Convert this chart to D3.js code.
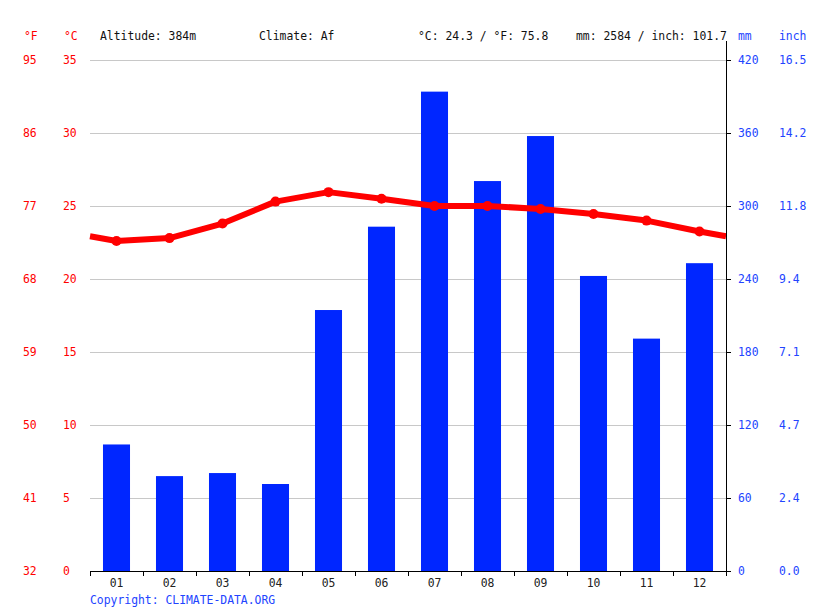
<!DOCTYPE html>
<html><head><meta charset="utf-8">
<script src="https://cdn.jsdelivr.net/npm/d3@7"></script>
<style>body{margin:0;background:#fff}svg{display:block}text{font-family:"DejaVu Sans Mono",monospace;font-size:11.4px}</style>
</head><body><svg id="c" width="815" height="611"></svg>
<script>
const months = ["01","02","03","04","05","06","07","08","09","10","11","12"];
const tempC = [22.6,22.8,23.8,25.3,25.95,25.5,25.0,25.0,24.8,24.45,24.0,23.25];
const precipMm = [104,78,80.5,71.5,214.5,283,394,320.5,357.5,242.5,191,253];
const cTicks = [0,5,10,15,20,25,30,35];
const fTicks = ["32","41","50","59","68","77","86","95"];
const mmTicks = [0,60,120,180,240,300,360,420];
const inchTicks = ["0.0","2.4","4.7","7.1","9.4","11.8","14.2","16.5"];
const header = [["Altitude: 384m",100],["Climate: Af",259],["°C: 24.3 / °F: 75.8",418],["mm: 2584 / inch: 101.7",576]];

const svg = d3.select("#c");
const L=90,R=726,T=60,B=571;
const red="#ff0000", blue="#0026ff", tblue="#2244ff";
const x = d3.scaleBand().domain(months).range([L,R]).paddingInner(0.49).paddingOuter(0.245);
const xb = d3.scaleBand().domain(months).range([L,R]);
const yC = d3.scaleLinear().domain([0,35]).range([B,T]);
const yP = d3.scaleLinear().domain([0,420]).range([B,T]);

// grid
svg.append("g").selectAll("line").data(cTicks).join("line")
  .attr("x1",L).attr("x2",R).attr("y1",d=>yC(d)+0.5).attr("y2",d=>yC(d)+0.5)
  .attr("stroke","#c8c8c8").attr("stroke-width",1);

// bars
svg.append("g").selectAll("rect").data(precipMm).join("rect")
  .attr("x",(d,i)=>x(months[i])).attr("width",x.bandwidth())
  .attr("y",d=>yP(d)).attr("height",d=>B-yP(d)).attr("fill",blue);

// temperature line with wrap-around edges
const edge=(tempC[0]+tempC[11])/2;
const pts=[[L,yC(edge)]].concat(tempC.map((t,i)=>[xb(months[i])+xb.bandwidth()/2,yC(t)])).concat([[R,yC(edge)]]);
svg.append("path").attr("d",d3.line()(pts)).attr("fill","none").attr("stroke",red).attr("stroke-width",6).attr("stroke-linejoin","round");
svg.append("g").selectAll("circle").data(tempC).join("circle")
  .attr("cx",(d,i)=>xb(months[i])+xb.bandwidth()/2).attr("cy",d=>yC(d)).attr("r",5).attr("fill",red);

// x axis
const xa = svg.append("g").attr("transform",`translate(0,${B})`);
xa.append("line").attr("x1",L).attr("x2",R+1).attr("y1",0.5).attr("y2",0.5).attr("stroke","#000");
xa.selectAll("line.t").data(d3.range(13)).join("line").attr("class","t")
  .attr("x1",i=>Math.round(L+i*xb.step())+0.5).attr("x2",i=>Math.round(L+i*xb.step())+0.5)
  .attr("y1",0).attr("y2",5).attr("stroke","#000");
xa.selectAll("text").data(months).join("text")
  .attr("x",d=>xb(d)+xb.bandwidth()/2).attr("y",16).attr("text-anchor","middle").attr("fill","#222").text(d=>d);

// right axis
const ra = svg.append("g");
ra.append("line").attr("x1",R+0.5).attr("x2",R+0.5).attr("y1",41).attr("y2",B+1).attr("stroke","#000");
ra.selectAll("line.t").data(mmTicks).join("line").attr("class","t")
  .attr("x1",R).attr("x2",R+5).attr("y1",d=>yP(d)+0.5).attr("y2",d=>yP(d)+0.5).attr("stroke","#000");
ra.selectAll("text.mm").data(mmTicks).join("text").attr("class","mm")
  .attr("x",738).attr("y",d=>yP(d)+4).attr("fill",tblue).text(d=>d);
ra.selectAll("text.in").data(inchTicks).join("text").attr("class","in")
  .attr("x",779).attr("y",(d,i)=>yP(mmTicks[i])+4).attr("fill",tblue).text(d=>d);

// left labels
svg.append("g").selectAll("text").data(cTicks).join("text")
  .attr("x",63).attr("y",d=>yC(d)+4).attr("fill",red).text(d=>d);
svg.append("g").selectAll("text").data(fTicks).join("text")
  .attr("x",23).attr("y",(d,i)=>yC(cTicks[i])+4).attr("fill",red).text(d=>d);

// header
svg.append("text").attr("x",24).attr("y",40).attr("fill",red).text("°F");
svg.append("text").attr("x",64).attr("y",40).attr("fill",red).text("°C");
svg.append("text").attr("x",738).attr("y",40).attr("fill",tblue).text("mm");
svg.append("text").attr("x",779).attr("y",40).attr("fill",tblue).text("inch");
svg.append("g").selectAll("text").data(header).join("text")
  .attr("x",d=>d[1]).attr("y",40).attr("fill","#111").text(d=>d[0]);
svg.append("text").attr("x",90).attr("y",604).attr("fill",tblue).text("Copyright: CLIMATE-DATA.ORG");
</script></body></html>
